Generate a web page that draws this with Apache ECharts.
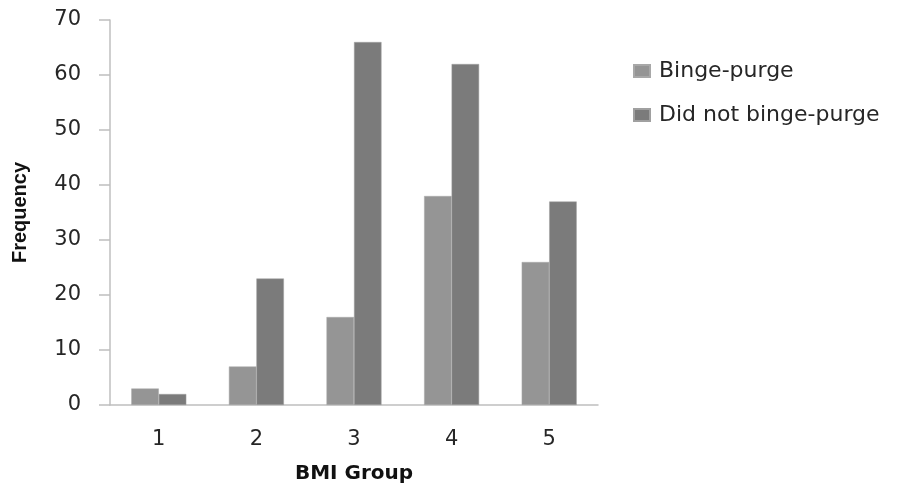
<!DOCTYPE html>
<html><head><meta charset="utf-8">
<script src="https://cdn.jsdelivr.net/npm/echarts@6/dist/echarts.min.js"></script>
<style>html,body{margin:0;padding:0;background:#fff}#c{width:910px;height:489px}</style>
</head><body><div id="c"></div>
<script>
const categories = ['1','2','3','4','5'];
const bingePurge = [3, 7, 16, 38, 26];
const didNotBingePurge = [2, 23, 66, 62, 37];
const seriesNames = ['Binge-purge', 'Did not binge-purge'];
const yTicks = {min: 0, max: 70, interval: 10};

const chart = echarts.init(document.getElementById('c'), null, {renderer:'canvas'});
const font = '"DejaVu Sans", sans-serif';
chart.setOption({
  animation: false,
  backgroundColor: '#fff',
  grid: {left: 110, top: 20, right: 312, bottom: 84, outerBoundsMode: 'none', containLabel: false},
  legend: {
    orient: 'vertical', left: 633, top: 60, itemGap: 22, padding: 0,
    itemWidth: 16, itemHeight: 12, icon: 'rect',
    textStyle: {fontFamily: font, fontSize: 22, color: '#262626', padding: [0,0,0,4]},
    data: seriesNames
  },
  xAxis: {
    type: 'category', data: categories,
    name: 'BMI Group', nameLocation: 'middle', nameGap: 59,
    nameTextStyle: {fontFamily: font, fontSize: 20, fontWeight: 'bold', color: '#111'},
    axisLine: {lineStyle: {color: '#bfbfbf', width: 1.5}},
    axisTick: {show: false},
    axisLabel: {fontFamily: font, fontSize: 21, color: '#262626', margin: 24}
  },
  yAxis: {
    type: 'value', min: yTicks.min, max: yTicks.max, interval: yTicks.interval,
    name: 'Frequency', nameLocation: 'middle', nameGap: 80, nameRotate: 90,
    nameTextStyle: {fontFamily: '"Liberation Sans", sans-serif', fontSize: 20, fontWeight: 'bold', color: '#111'},
    axisLine: {show: true, lineStyle: {color: '#bfbfbf', width: 1.5}},
    axisTick: {show: true, inside: false, length: 11, lineStyle: {color: '#bfbfbf', width: 1.5}},
    splitLine: {show: false},
    axisLabel: {fontFamily: font, fontSize: 21, color: '#262626', margin: 29}
  },
  series: [
    {name: seriesNames[0], type: 'bar', data: bingePurge, barWidth: 27.5, barGap: '0%',
     itemStyle: {color: '#959595', borderColor: '#a8a8a8', borderWidth: 0.5}},
    {name: seriesNames[1], type: 'bar', data: didNotBingePurge, barWidth: 27.5,
     itemStyle: {color: '#7b7b7b', borderColor: '#a0a0a0', borderWidth: 0.5}}
  ]
});
</script></body></html>
